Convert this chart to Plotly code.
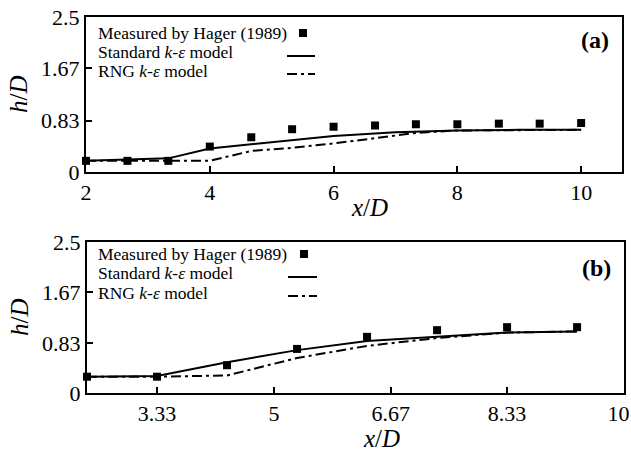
import plotly.graph_objects as go

W, H = 631, 453

# ---------------- data ----------------
# panel (a)
xa_meas = [2, 2.67, 3.33, 4, 4.67, 5.33, 6, 6.67, 7.33, 8, 8.67, 9.33, 10]
ya_meas = [0.18, 0.18, 0.18, 0.41, 0.56, 0.69, 0.73, 0.75, 0.77, 0.77, 0.78, 0.78, 0.79]
xa_std = [2, 3.33, 4, 5, 6, 7, 8, 9, 10]
ya_std = [0.18, 0.22, 0.38, 0.48, 0.58, 0.64, 0.67, 0.68, 0.68]
xa_rng = [2, 3.33, 4, 4.67, 5.33, 6, 7, 7.33, 8, 9, 10]
ya_rng = [0.18, 0.18, 0.18, 0.34, 0.39, 0.46, 0.58, 0.63, 0.67, 0.68, 0.68]

# panel (b)
xb_meas = [2.33, 3.33, 4.33, 5.33, 6.33, 7.33, 8.33, 9.33]
yb_meas = [0.27, 0.27, 0.46, 0.73, 0.93, 1.04, 1.09, 1.09]
xb_std = [2.33, 3.33, 4.33, 5.33, 6.33, 7.33, 8.33, 9.33]
yb_std = [0.27, 0.28, 0.51, 0.71, 0.86, 0.93, 1.0, 1.02]
xb_rng = [2.33, 3.33, 4.33, 5.33, 6.33, 7.33, 8.33, 9.33]
yb_rng = [0.27, 0.27, 0.29, 0.58, 0.78, 0.91, 1.0, 1.02]

xa_ticks = [2, 4, 6, 8, 10]
xb_ticks = [3.33, 5, 6.67, 8.33, 10]
xb_ticklabels = ["3.33", "5", "6.67", "8.33", "10\u00a0\u00a0"]
y_ticks = [0, 0.83, 1.67, 2.5]
y_ticklabels = ["0", "0.83", "1.67", "2.5"]

leg_labels = ["Measured by Hager (1989)", "Standard <i>k-ε</i> model", "RNG <i>k-ε</i> model"]

FONT = "Liberation Serif"
DASHDOT = "10px,4px,3px,4px"


def px(x):
    return x / W


def py(y):
    return 1 - y / H


fig = go.Figure()

for xs, ys, xm, ym, xr, yr, xa, ya in [
    (xa_meas, ya_meas, xa_std, ya_std, xa_rng, ya_rng, "x", "y"),
    (xb_meas, yb_meas, xb_std, yb_std, xb_rng, yb_rng, "x2", "y2"),
]:
    fig.add_trace(go.Scatter(x=xm, y=ym, mode="lines", xaxis=xa, yaxis=ya,
                             line=dict(color="black", width=2), showlegend=False))
    fig.add_trace(go.Scatter(x=xr, y=yr, mode="lines", xaxis=xa, yaxis=ya,
                             line=dict(color="black", width=2, dash=DASHDOT), showlegend=False))
    fig.add_trace(go.Scatter(x=xs, y=ys, mode="markers", xaxis=xa, yaxis=ya,
                             marker=dict(symbol="square", size=8, color="black"),
                             showlegend=False, cliponaxis=False))

axis_common = dict(
    showline=True, linecolor="black", linewidth=2, mirror=True,
    ticks="inside", ticklen=6, tickwidth=2, tickcolor="black",
    showgrid=False, zeroline=False, ticklabeloverflow="allow", automargin=False,
    tickfont=dict(family=FONT, size=22, color="black"),
)

fig.update_layout(
    width=W, height=H,
    margin=dict(l=0, r=0, t=0, b=0),
    paper_bgcolor="white", plot_bgcolor="white",
    showlegend=False,
    xaxis=dict(domain=[px(86), px(622)], range=[2, 10.66], anchor="y",
               tickvals=xa_ticks, ticktext=[str(t) for t in xa_ticks], **axis_common),
    yaxis=dict(domain=[py(172), py(17)], range=[0, 2.5], anchor="x",
               tickvals=y_ticks, ticktext=y_ticklabels, **axis_common),
    xaxis2=dict(domain=[px(87), px(624)], range=[2.33, 10], anchor="y2",
                tickvals=xb_ticks, ticktext=xb_ticklabels, **axis_common),
    yaxis2=dict(domain=[py(393), py(242)], range=[0, 2.5], anchor="x2",
                tickvals=y_ticks, ticktext=y_ticklabels, **axis_common),
)

annotations = []
shapes = []

TITLE_FONT = dict(family=FONT, size=25, color="black")

# axis titles
for ty in (94, 317):
    annotations.append(dict(x=px(19), y=py(ty), xref="paper", yref="paper",
                            text="<i>h</i>/<i>D</i>", showarrow=False, textangle=-90,
                            font=TITLE_FONT, xanchor="center", yanchor="middle"))
annotations.append(dict(x=px(369), y=py(207), xref="paper", yref="paper",
                        text="<i>x</i>/<i>D</i>", showarrow=False, font=TITLE_FONT,
                        xanchor="center", yanchor="middle"))
annotations.append(dict(x=px(381), y=py(438), xref="paper", yref="paper",
                        text="<i>x</i>/<i>D</i>", showarrow=False, font=TITLE_FONT,
                        xanchor="center", yanchor="middle"))

# panel labels
annotations.append(dict(x=px(611), y=py(40), xref="paper", yref="paper", text="<b>(a)</b>",
                        showarrow=False, font=dict(family=FONT, size=24, color="black"),
                        xanchor="right", yanchor="middle"))
annotations.append(dict(x=px(613), y=py(268), xref="paper", yref="paper", text="<b>(b)</b>",
                        showarrow=False, font=dict(family=FONT, size=24, color="black"),
                        xanchor="right", yanchor="middle"))

# manual legends (symbol to the right of the text)
for rows, mk_x, ln_x0, ln_x1 in [
    ([33, 52, 71], 303, 287, 315),
    ([254, 273, 293], 304, 288, 317),
]:
    for lab, ry in zip(leg_labels, rows):
        annotations.append(dict(x=px(96), y=py(ry), xref="paper", yref="paper", text=lab,
                                showarrow=False, font=dict(family=FONT, size=17.5, color="black"),
                                xanchor="left", yanchor="middle"))
    shapes.append(dict(type="rect", xref="paper", yref="paper",
                       x0=px(mk_x - 4), x1=px(mk_x + 4), y0=py(rows[0] + 4), y1=py(rows[0] - 4),
                       fillcolor="black", line=dict(width=0)))
    shapes.append(dict(type="line", xref="paper", yref="paper",
                       x0=px(ln_x0), x1=px(ln_x1), y0=py(rows[1] + 4), y1=py(rows[1] + 4),
                       line=dict(color="black", width=2)))
    shapes.append(dict(type="line", xref="paper", yref="paper",
                       x0=px(ln_x0), x1=px(ln_x1), y0=py(rows[2] + 3), y1=py(rows[2] + 3),
                       line=dict(color="black", width=2, dash=DASHDOT)))

fig.update_layout(annotations=annotations, shapes=shapes)

fig.write_html("out.html")
